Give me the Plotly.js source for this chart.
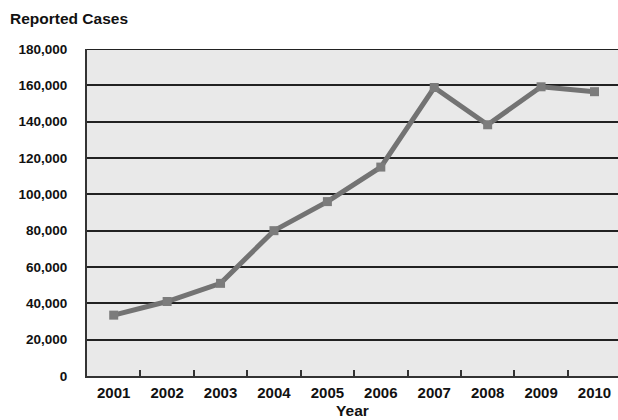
<!DOCTYPE html>
<html>
<head>
<meta charset="utf-8">
<script src="https://cdn.plot.ly/plotly-3.0.1.min.js"></script>
<style>html,body{margin:0;padding:0;background:#fff;}#chart{width:618px;height:420px;}</style>
</head>
<body>
<div id="chart"></div>
<script>
var years = ["2001","2002","2003","2004","2005","2006","2007","2008","2009","2010"];
var cases = [33500, 41000, 51000, 80000, 96000, 115000, 158800, 138300, 159200, 156500];
var yTicks = [0,20000,40000,60000,80000,100000,120000,140000,160000,180000];

var trace = {
  x: years, y: cases, type: 'scatter', mode: 'lines+markers',
  line: {color: '#737373', width: 5},
  marker: {symbol: 'square', size: 9, color: '#7c7c7c'},
  hoverinfo: 'skip'
};
var fam = 'Liberation Sans, Arial, sans-serif';
var layout = {
  width: 618, height: 420,
  margin: {l: 87, r: 0, t: 49, b: 44},
  paper_bgcolor: '#ffffff', plot_bgcolor: '#e9e9e9',
  showlegend: false,
  font: {family: fam, color: '#111', size: 12},
  xaxis: {
    type: 'category', range: [-0.5, 9.44],
    tickson: 'boundaries', ticks: 'inside', ticklen: 6, tickwidth: 2, tickcolor: '#333',
    showline: true, linecolor: '#333', linewidth: 2,
    showgrid: false, zeroline: false, ticklabelstandoff: 2,
    tickfont: {family: fam, size: 15, color: '#111', weight: 'bold'},
    title: {text: '<b>Year</b>', font: {family: fam, size: 15.5, color: '#111'}, standoff: 5}
  },
  yaxis: {
    range: [0, 180000], tickvals: yTicks, tickformat: ',',
    showline: true, linecolor: '#333', linewidth: 2,
    showgrid: true, gridcolor: '#222222', gridwidth: 2,
    zeroline: false, ticks: '', ticklabelstandoff: 15,
    tickfont: {family: fam, size: 13.5, color: '#111', weight: 'bold'}
  },
  shapes: [{type: 'line', xref: 'paper', yref: 'y', x0: 0, x1: 1, y0: 180000, y1: 180000,
            line: {color: '#222222', width: 2}}],
  annotations: [{text: '<b>Reported Cases</b>', xref: 'paper', yref: 'paper', x: 0, y: 1,
    xanchor: 'left', yanchor: 'bottom', xshift: -79, yshift: 20, showarrow: false,
    font: {family: fam, size: 15.5, color: '#111'}}]
};
Plotly.newPlot('chart', [trace], layout, {displayModeBar: false, staticPlot: true});
</script>
</body>
</html>
